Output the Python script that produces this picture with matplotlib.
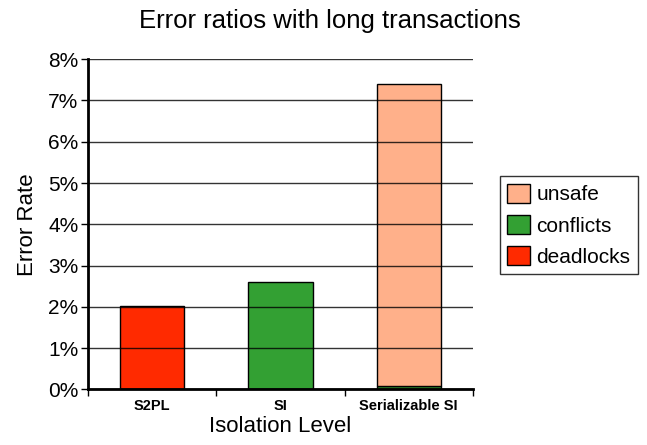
import numpy as np
import matplotlib.pyplot as plt
from matplotlib.patches import Patch
from matplotlib.ticker import FuncFormatter

# data (percent)
levels = ["S2PL", "SI", "Serializable SI"]
deadlocks = [2.03, 0.0, 0.0]
conflicts = [0.0, 2.60, 0.09]
unsafe = [0.0, 0.0, 7.30]

c_dead = "#ff2a00"
c_conf = "#33a033"
c_unsafe = "#ffb08a"

fig = plt.figure(figsize=(6.47, 4.45), dpi=100)
ax = fig.add_axes([0.136, 0.125, 0.595, 0.742])

x = np.arange(len(levels))
w = 0.5
b1 = ax.bar(x, deadlocks, w, color=c_dead, edgecolor="black", linewidth=1, zorder=2)
b2 = ax.bar(x, conflicts, w, bottom=deadlocks, color=c_conf, edgecolor="black", linewidth=1, zorder=2)
bot = np.array(deadlocks) + np.array(conflicts)
b3 = ax.bar(x, unsafe, w, bottom=bot, color=c_unsafe, edgecolor="black", linewidth=1, zorder=2)
# hide empty segments
for bars, vals in ((b1, deadlocks), (b2, conflicts), (b3, unsafe)):
    for r, v in zip(bars, vals):
        if v == 0:
            r.set_visible(False)

ax.set_xlim(-0.5, 2.5)
ax.set_ylim(0, 8)
ax.set_yticks(range(0, 9))
ax.yaxis.set_major_formatter(FuncFormatter(lambda v, p: f"{int(v)}%"))
ax.grid(axis="y", color="black", linewidth=1, alpha=0.8, zorder=3)
ax.set_axisbelow(False)

ax.set_xticks(x)
ax.set_xticklabels(levels, fontsize=10.5, fontweight="bold", family="Liberation Sans")
ax.set_xticks([-0.5, 0.5, 1.5, 2.5], minor=True)
ax.tick_params(axis="x", which="major", length=0, pad=7)
ax.tick_params(axis="x", which="minor", length=5, width=1, direction="out")
ax.tick_params(axis="y", length=5, width=1, labelsize=15, pad=2)
for lab in ax.get_yticklabels():
    lab.set_family("Liberation Sans")

for s in ("top", "right"):
    ax.spines[s].set_visible(False)
ax.spines["left"].set_linewidth(2)
ax.spines["bottom"].set_linewidth(2)

ax.set_xlabel("Isolation Level", fontsize=16, family="Liberation Sans", labelpad=2)
ax.set_ylabel("Error Rate", fontsize=16, family="Liberation Sans", labelpad=7)
fig.text(0.51, 0.953, "Error ratios with long transactions", ha="center", va="center",
         fontsize=18.5, family="Liberation Sans")

handles = [Patch(facecolor=c, edgecolor="black", linewidth=1) for c in (c_unsafe, c_conf, c_dead)]
leg = ax.legend(handles, ["unsafe", "conflicts", "deadlocks"],
                loc="center left", bbox_to_anchor=(0.773, 0.494), bbox_transform=fig.transFigure,
                frameon=True, fancybox=False, edgecolor="black",
                prop={"family": "Liberation Sans", "size": 15},
                handlelength=1.1, handleheight=1.05, handletextpad=0.3, borderpad=0.35,
                labelspacing=0.5, borderaxespad=0)
leg.get_frame().set_linewidth(1)

fig.savefig("out.png", dpi=100)
